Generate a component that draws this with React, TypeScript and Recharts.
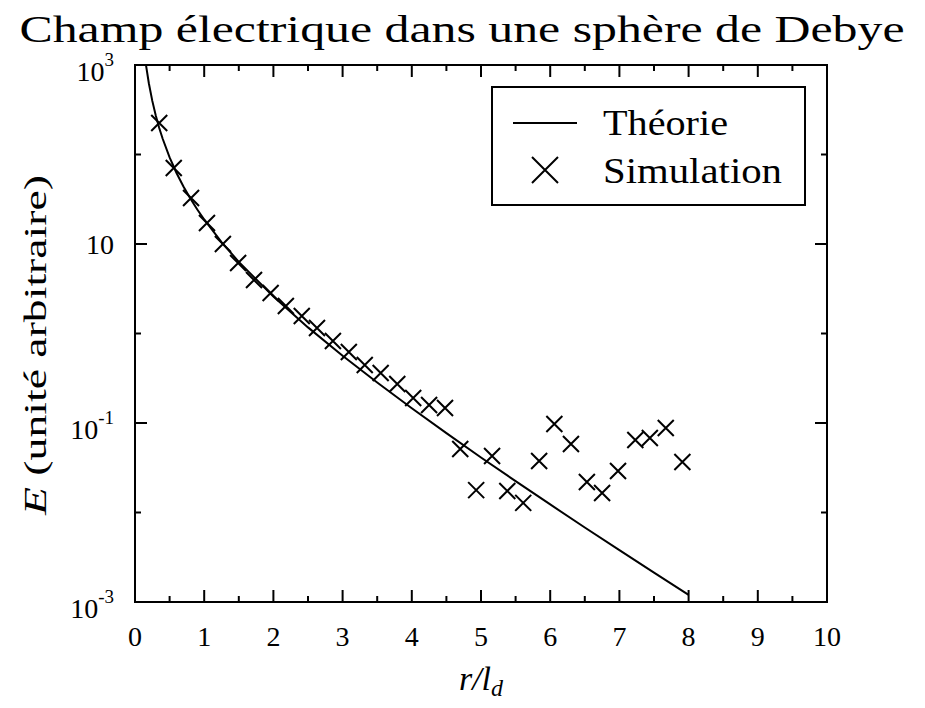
import { ScatterChart, Scatter, XAxis, YAxis, ReferenceArea } from "recharts";

// courbe théorique
const THEORY_R = [0.16, 0.2, 0.25, 0.3, 0.35, 0.4, 0.5, 0.6, 0.7, 0.8, 0.9, 1, 1.25, 1.5, 2, 2.5, 3, 3.5, 4, 4.5, 5, 5.5, 6, 6.5, 7, 7.5, 8];
const THEORY_E = [985, 626, 397, 273, 198, 150, 92.8, 62.2, 43.9, 32.2, 24.3, 18.8, 10.5, 6.32, 2.59, 1.17, 0.564, 0.283, 0.146, 0.077, 0.0412, 0.0224, 0.0123, 0.0068, 0.0038, 0.00213, 0.0012];

// points de simulation
const SIM_R = [0.35, 0.56, 0.81, 1.04, 1.27, 1.49, 1.72, 1.96, 2.18, 2.41, 2.63, 2.86, 3.09, 3.32, 3.55, 3.79, 4.02, 4.25, 4.48, 4.7, 4.93, 5.16, 5.38, 5.61, 5.84, 6.06, 6.3, 6.53, 6.75, 6.98, 7.23, 7.44, 7.67, 7.91];
const SIM_E = [225, 70.6, 32.7, 17.2, 10.0, 6.13, 3.96, 2.84, 2.03, 1.57, 1.15, 0.824, 0.621, 0.445, 0.362, 0.273, 0.19, 0.159, 0.147, 0.0512, 0.0178, 0.0428, 0.0174, 0.0128, 0.0376, 0.0975, 0.0582, 0.0219, 0.0165, 0.0291, 0.0646, 0.0679, 0.0879, 0.0367];

const X_TICKS = [0, 0.5, 1, 1.5, 2, 2.5, 3, 3.5, 4, 4.5, 5, 5.5, 6, 6.5, 7, 7.5, 8, 8.5, 9, 9.5, 10];
const Y_TICKS = [0.001, 0.01, 0.1, 1, 10, 100, 1000];
const Y_LABELS: Record<string, string> = { "0.001": "-3", "0.1": "-1", "10": "", "1000": "3" };

const theory = THEORY_R.map((r, i) => ({ r, e: THEORY_E[i] }));
const simulation = SIM_R.map((r, i) => ({ r, e: SIM_E[i] }));

const W = 925, H = 708;
const PL = 135, PR = 827, PT = 65, PB = 602;
const FONT = '"Liberation Serif", "Times New Roman", Times, "DejaVu Serif", serif';
const txt = { fontFamily: FONT };

function XTick({ x, payload }: any) {
  const v = payload.value;
  const major = Number.isInteger(v);
  const len = major ? 12 : 6;
  return (
    <g>
      <line x1={x} x2={x} y1={PB} y2={PB - len} stroke="#000" strokeWidth={2} />
      <line x1={x} x2={x} y1={PT} y2={PT + len} stroke="#000" strokeWidth={2} />
      {major && (
        <text x={x} y={PB + 44} textAnchor="middle" fontSize={28} style={txt} fill="#000">{v}</text>
      )}
    </g>
  );
}

function YTick({ y, payload }: any) {
  const key = String(payload.value);
  const exp = Y_LABELS[key];
  const major = exp !== undefined;
  const len = major ? 12 : 6;
  return (
    <g>
      <line x1={PL} x2={PL + len} y1={y} y2={y} stroke="#000" strokeWidth={2} />
      <line x1={PR} x2={PR - len} y1={y} y2={y} stroke="#000" strokeWidth={2} />
      {major && (
        <text x={114} y={y + (exp ? 16 : 10)} textAnchor="end" fontSize={28} style={txt} fill="#000">
          10
          {exp && <tspan fontSize={19} dy={-15}>{exp}</tspan>}
        </text>
      )}
    </g>
  );
}

const Cross = ({ cx, cy }: any) => {
  const h = 8;
  return <path d={`M${cx - h},${cy - h}L${cx + h},${cy + h}M${cx - h},${cy + h}L${cx + h},${cy - h}`} stroke="#000" strokeWidth={2} fill="none" />;
};

export default function App() {
  return (
    <div style={{ position: "absolute", left: 0, top: 0, width: W, height: H, background: "#fff" }}>
      <ScatterChart width={W} height={H} margin={{ top: PT, right: W - PR, bottom: 46, left: 35 }}>
        <XAxis type="number" dataKey="r" domain={[0, 10]} ticks={X_TICKS} interval={0} height={60}
          axisLine={false} tickLine={false} tick={<XTick />} allowDataOverflow />
        <YAxis type="number" dataKey="e" scale="log" domain={[0.001, 1000]} ticks={Y_TICKS} interval={0} width={100}
          axisLine={false} tickLine={false} tick={<YTick />} allowDataOverflow />
        <ReferenceArea x1={0} x2={10} y1={0.001} y2={1000} fill="none" fillOpacity={0} stroke="#000" strokeWidth={2} />
        <Scatter name="Théorie" data={theory} line={{ stroke: "#000", strokeWidth: 2 }} lineType="joint"
          shape={() => <g />} isAnimationActive={false} />
        <Scatter name="Simulation" data={simulation} shape={<Cross />} isAnimationActive={false} />
      </ScatterChart>
      <svg width={W} height={H} style={{ position: "absolute", left: 0, top: 0, pointerEvents: "none" }}>
        <text x={462} y={42} textAnchor="middle" fontSize={37} style={txt} textLength={885} lengthAdjust="spacingAndGlyphs">
          Champ électrique dans une sphère de Debye
        </text>
        <text transform="translate(46,345) rotate(-90)" textAnchor="middle" fontSize={31} style={txt} textLength={340} lengthAdjust="spacingAndGlyphs">
          <tspan fontStyle="italic">E</tspan> (unité arbitraire)
        </text>
        <text x={481} y={690} textAnchor="middle" fontSize={34} style={txt} fontStyle="italic">
          r/l<tspan fontSize={24} dy={6}>d</tspan>
        </text>
        <rect x={492} y={87} width={313} height={118} fill="#fff" stroke="#000" strokeWidth={2} />
        <line x1={513} x2={577} y1={123} y2={123} stroke="#000" strokeWidth={2} />
        <text x={603} y={135} fontSize={35} style={txt} textLength={125} lengthAdjust="spacingAndGlyphs">Théorie</text>
        <path d="M532,157L558,183M532,183L558,157" stroke="#000" strokeWidth={2} />
        <text x={603} y={183} fontSize={35} style={txt} textLength={179} lengthAdjust="spacingAndGlyphs">Simulation</text>
      </svg>
    </div>
  );
}
